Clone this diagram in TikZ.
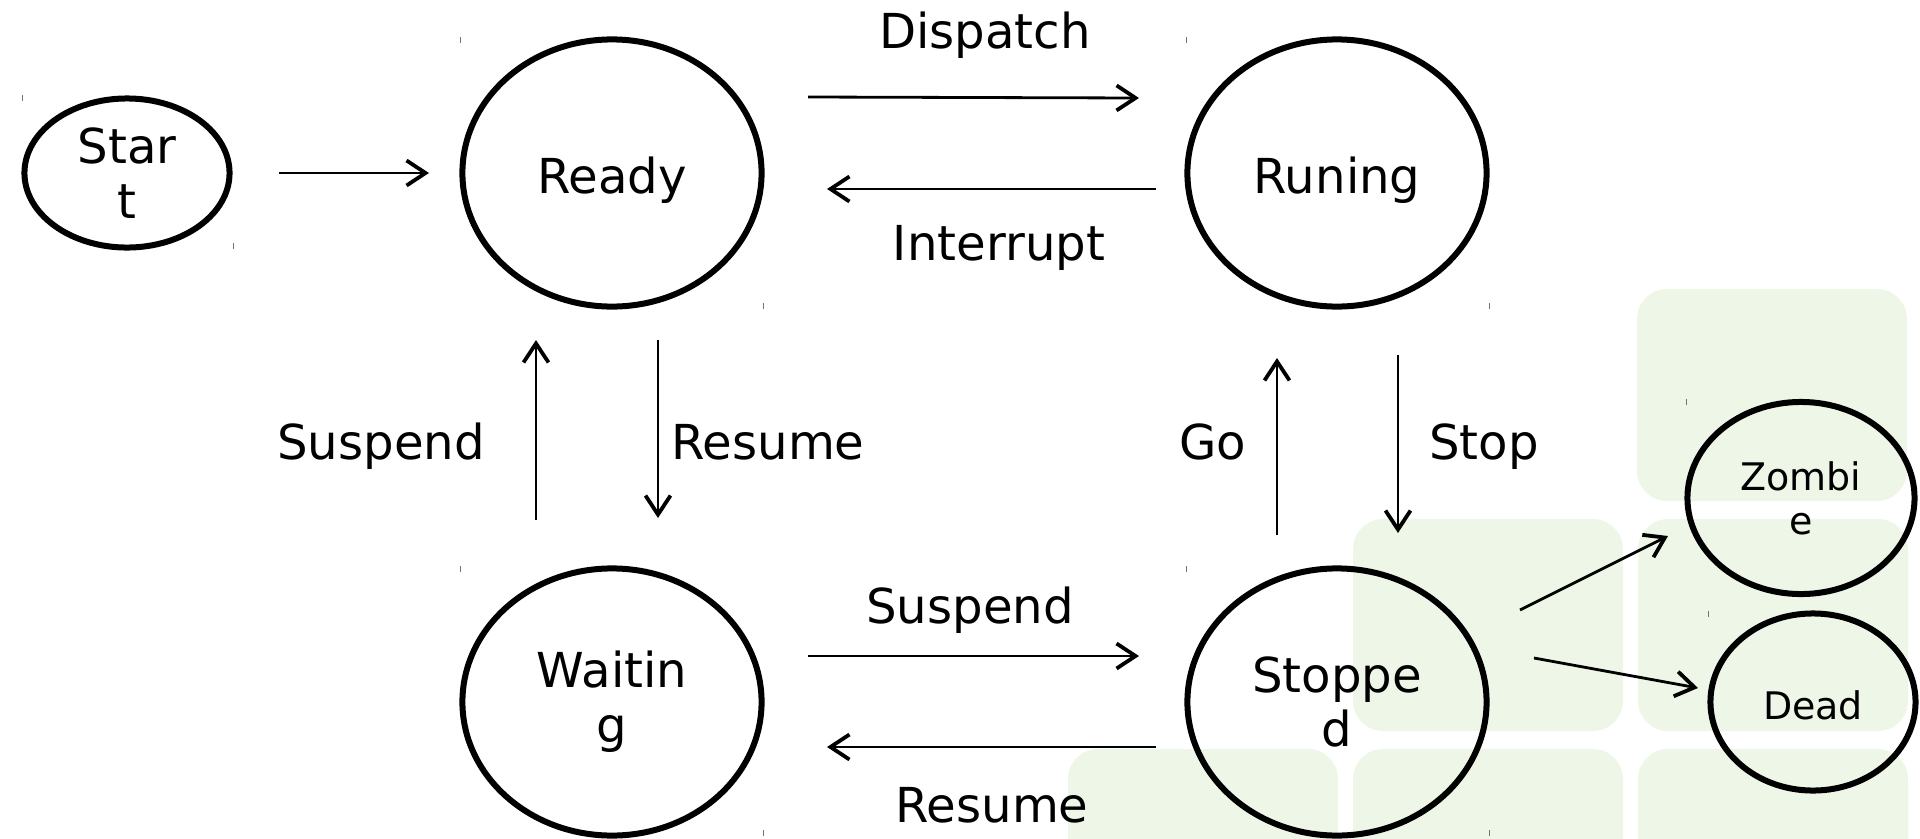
\documentclass[tikz,border=0pt]{standalone}
\usepackage{fontspec}
\setmainfont{DejaVu Sans}
\usetikzlibrary{shapes.geometric,arrows.meta}
\definecolor{paleGreen}{RGB}{238,247,231}
\tikzset{
  state/.style={draw, ellipse, line width=0.06cm, inner sep=0pt, align=center,
    font=\fontsize{13.7}{15.6}\selectfont},
  oneline/.style={text height=0.52cm, text depth=0.12cm},
  small/.style={font=\fontsize{10.8}{12.5}\selectfont},
  trans/.style={line width=0.028cm,
    -{Straight Barb[length=0.19cm,width=0.25cm,line width=0.038cm]}},
  lbl/.style={anchor=base, inner sep=0pt, font=\fontsize{13.7}{15.6}\selectfont},
  tile/.style={fill=paleGreen, rounded corners=0.3cm},
  tick/.style={line width=0.01cm, black!55},
}
\begin{document}
\begin{tikzpicture}[x=0.01cm, y=-0.01cm]
    \useasboundingbox (0,0) rectangle (1920,839);

    % background tiles
    \foreach \tx/\ty in {1637/289, 1353/519, 1638/519, 1068/749, 1353/749, 1638/749}{%
        \fill[tile] (\tx,\ty) rectangle ++(270,212);
    }

    % states
    \node[state, minimum width=2.05cm, minimum height=1.49cm] (start) at (127,173) {Star\\t};
    \node[state, oneline, minimum width=2.99cm, minimum height=2.67cm] (ready) at (612,173) {Ready};
    \node[state, oneline, minimum width=2.99cm, minimum height=2.67cm] (run) at (1337,173) {Runing};
    \node[state, minimum width=2.99cm, minimum height=2.67cm] (wait) at (612,702) {Waitin\\g};
    \node[state, minimum width=2.99cm, minimum height=2.67cm] (stop) at (1337,702) {Stoppe\\d};
    \node[state, small, minimum width=2.27cm, minimum height=1.92cm] (zombie) at (1801,498) {Zombi\\e};
    \node[state, small, text height=0.42cm, text depth=0.08cm,
          minimum width=2.05cm, minimum height=1.77cm] (dead) at (1813,702) {Dead};

    % corner marks
    \foreach \cx/\cy in {22/95, 460/37, 1186/37, 460/566, 1186/566, 1686/399, 1708/611}{%
        \draw[tick] (\cx,\cy) -- ++(0,6);
    }
    \foreach \cx/\cy in {233/249, 763/309, 1489/309, 763/836, 1489/836}{%
        \draw[tick] (\cx,\cy) -- ++(0,-6);
    }

    % transitions
    \draw[trans] ([shift={(152,0)}]start.center) -- ([shift={(-183,0)}]ready.center);
    \draw[trans] ([shift={(196,-76)}]ready.center) -- ([shift={(-198,-75)}]run.center);
    \draw[trans] ([shift={(-181,16)}]run.center) -- ([shift={(215,16)}]ready.center);
    \draw[trans] ([shift={(-76,-182)}]wait.center) -- ([shift={(-76,167)}]ready.center);
    \draw[trans] ([shift={(46,167)}]ready.center) -- ([shift={(46,-184)}]wait.center);
    \draw[trans] ([shift={(-60,-167)}]stop.center) -- ([shift={(-60,185)}]run.center);
    \draw[trans] ([shift={(61,182)}]run.center) -- ([shift={(61,-169)}]stop.center);
    \draw[trans] ([shift={(196,-46)}]wait.center) -- ([shift={(-198,-46)}]stop.center);
    \draw[trans] ([shift={(-181,45)}]stop.center) -- ([shift={(215,45)}]wait.center);
    \draw[trans] ([shift={(183,-92)}]stop.center) -- ([shift={(-133,38)}]zombie.center);
    \draw[trans] ([shift={(197,-44)}]stop.center) -- ([shift={(-115,-14)}]dead.center);

    % transition labels
    \node[lbl] (dispatchLbl) at (985,48) {Dispatch};
    \node[lbl] (interruptLbl) at (999,260) {Interrupt};
    \node[lbl] (suspendLbl) at (381,459) {Suspend};
    \node[lbl] (resumeLbl) at (768,459) {Resume};
    \node[lbl] (goLbl) at (1213,459) {Go};
    \node[lbl] (stopLbl) at (1484,459) {Stop};
    \node[lbl] (suspendLblB) at (970,623) {Suspend};
    \node[lbl] (resumeLblB) at (992,822) {Resume};
\end{tikzpicture}
\end{document}
